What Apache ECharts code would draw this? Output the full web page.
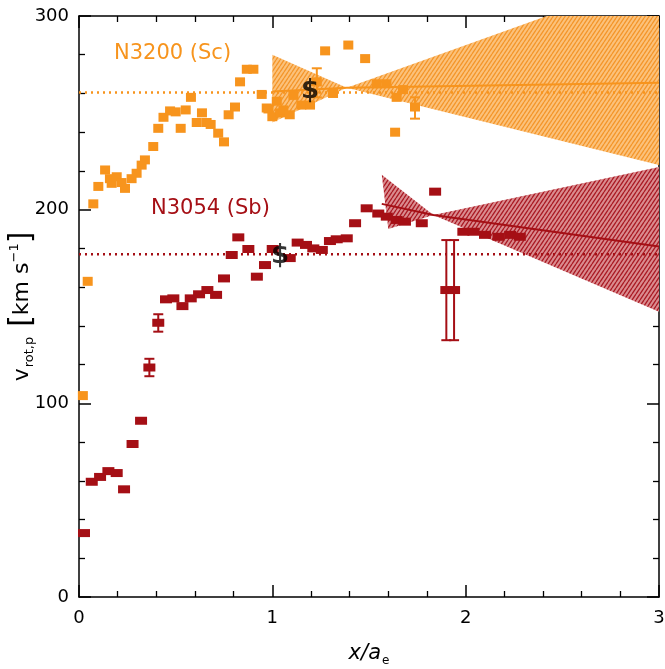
<!DOCTYPE html>
<html><head><meta charset="utf-8">
<script src="https://cdn.jsdelivr.net/npm/echarts@6/dist/echarts.min.js"></script>
<style>html,body{margin:0;padding:0;background:#fff}#c{width:665px;height:669px}</style>
</head><body><div id="c"></div>
<script>
// ---- data ----
const orangeX = [0.02,0.045,0.074,0.10,0.135,0.16,0.169,0.195,0.22,0.238,0.272,0.298,0.324,0.341,0.384,0.41,0.437,0.471,0.50,0.526,0.552,0.579,0.609,0.636,0.66,0.681,0.72,0.75,0.774,0.807,0.833,0.868,0.902,0.945,0.971,0.98,1.0,1.023,1.04,1.057,1.09,1.109,1.15,1.195,1.23,1.273,1.314,1.393,1.48,1.54,1.59,1.635,1.643,1.676,1.738];
const orangeY = [104,163,203,212,220.5,216,213.6,217,214,211,216,218.8,223,225.7,232.6,242,247.7,251,250.5,242,251.5,258,245,250,245,244,239.5,235,249,253,266,272.5,272.5,259.5,252.5,252,248,256,250,251.5,249,259,254,254,266,282,260,285,278,265,265,240,258,262,253];
const redX = [0.026,0.066,0.109,0.152,0.195,0.233,0.277,0.321,0.364,0.41,0.45,0.488,0.535,0.578,0.621,0.664,0.709,0.75,0.79,0.824,0.876,0.92,0.962,1.002,1.09,1.131,1.174,1.212,1.256,1.298,1.333,1.385,1.428,1.488,1.548,1.592,1.643,1.686,1.773,1.842,1.90,1.94,1.988,2.04,2.10,2.17,2.23,2.28];
const redY = [33,59.5,62,65,64,55.6,79,91,118.5,141.6,153.7,154.2,150.2,154.2,156.3,158.5,156,164.5,176.6,185.7,179.7,165.4,171.4,179.7,175,183,181.8,180,179.2,183.8,184.7,185.2,193,200.7,198,196.4,194.7,193.8,193,209.3,158.5,158.5,188.6,188.6,187,186,187,186];
// error bars: [x, low, high]
const orangeErr = [[1.23,258,273],[1.738,247,258]];
const redErr = [[0.364,114,123],[0.41,137,146],[1.90,132.6,184.3],[1.94,132.6,184.3]];
// mean-velocity markers ($)
const orangeMean = [1.195,261];
const redMean = [1.04,176];
// horizontal reference (dotted) levels
const orangeLevel = 260.5;
const redLevel = 177;
// fitted lines
const orangeFit = [[1.0,261],[1.385,263],[3.0,265.5]];
const redFit = [[1.566,203],[1.833,197.2],[3.0,181]];
// uncertainty wedges (polygons)
const orangeWedges = [
  [[1.0,280],[1.385,263],[1.0,245]],
  [[1.385,263],[2.42,300],[3.0,300],[3.0,223]]
];
const redWedges = [
  [[1.566,218],[1.833,197.2],[1.6,190]],
  [[1.833,197.2],[3.0,222],[3.0,147.3]]
];
const xTicks = [0,1,2,3];
const yTicks = [0,100,200,300];

// ---- styles ----
const ORANGE = '#F7941D', RED = '#A50F15';
function hatch(bg, fg){
  const c=document.createElement('canvas'); c.width=4; c.height=6;
  const g=c.getContext('2d'); g.fillStyle=bg; g.fillRect(0,0,4,6);
  g.strokeStyle=fg; g.lineWidth=1.3; g.beginPath();
  for(let k=-4;k<=8;k+=4){ g.moveTo(k,6); g.lineTo(k+4,0); }
  g.stroke(); return c;
}
const orangeFill = {image: hatch('#FBC27C','#F4962A'), repeat:'repeat'};
const redFill = {image: hatch('#DA8C90','#AA1A24'), repeat:'repeat'};

function polySeries(polys, fill){
  return {type:'custom', silent:true, z:1, clip:true,
    data: polys.map((p,i)=>[p[0][0],p[0][1],i]),
    renderItem:(params,api)=>{
      const p = polys[params.dataIndex];
      return {type:'polygon', shape:{points:p.map(q=>api.coord(q))}, style:{fill:fill, stroke:null}};
    }};
}
function errSeries(errs, color){
  return {type:'custom', silent:true, z:4,
    data: errs,
    renderItem:(params,api)=>{
      const x=api.value(0), lo=api.coord([x,api.value(1)]), hi=api.coord([x,api.value(2)]);
      const w=5;
      return {type:'group', children:[
        {type:'line', shape:{x1:lo[0],y1:lo[1],x2:hi[0],y2:hi[1]}, style:{stroke:color,lineWidth:2}},
        {type:'line', shape:{x1:lo[0]-w,y1:lo[1],x2:lo[0]+w,y2:lo[1]}, style:{stroke:color,lineWidth:2}},
        {type:'line', shape:{x1:hi[0]-w,y1:hi[1],x2:hi[0]+w,y2:hi[1]}, style:{stroke:color,lineWidth:2}}
      ]};
    }};
}
const zip=(a,b)=>a.map((v,i)=>[v,b[i]]);

const axisCommon = {
  type:'value', min:0,
  axisLine:{show:true,onZero:false,lineStyle:{color:'#000',width:1.5}},
  axisTick:{show:true,inside:true,length:12,lineStyle:{color:'#000',width:1.5}},
  minorTick:{show:true,splitNumber:5,length:6,lineStyle:{color:'#000',width:1.3}},
  splitLine:{show:false}, minorSplitLine:{show:false}
};
const chart = echarts.init(document.getElementById('c'), null, {renderer:'canvas'});
chart.setOption({
  backgroundColor:'#fff',
  animation:false,
  grid:{left:79,right:6,top:16,bottom:72,containLabel:false,outerBoundsMode:'none'},
  xAxis:[
    Object.assign({}, axisCommon, {max:3, interval:1, position:'bottom',
      axisLabel:{color:'#000',fontSize:18,margin:12,fontFamily:'DejaVu Sans',
        formatter:v=>xTicks.includes(v)?String(v):''},
      name:'{i|x/a}{s|e}', nameLocation:'middle', nameGap:44, nameMoveOverlap:false,
      nameTextStyle:{rich:{i:{fontSize:21,fontStyle:'italic',fontFamily:'DejaVu Sans',color:'#000'},
        s:{fontSize:12,fontFamily:'DejaVu Sans',color:'#000',padding:[14,0,0,1]}}}}),
    Object.assign({}, axisCommon, {max:3, interval:1, position:'top', axisLabel:{show:false}})
  ],
  yAxis:[
    Object.assign({}, axisCommon, {max:300, interval:100, position:'left',
      axisLabel:{color:'#000',fontSize:18,margin:10,fontFamily:'DejaVu Sans',
        formatter:v=>yTicks.includes(v)?String(v):''},
      name:'{v|v}{sub|rot,p}{sp| }{b|[}{t|km s}{sup|−1}{b|]}', nameLocation:'middle', nameGap:42, nameRotate:90,
      nameMoveOverlap:false,
      nameTextStyle:{rich:{
        v:{fontSize:22,fontFamily:'DejaVu Sans',color:'#000'},
        sub:{fontSize:13,fontFamily:'DejaVu Sans',color:'#000',padding:[16,0,0,1]},
        sp:{fontSize:22,width:10},
        b:{fontSize:30,fontFamily:'DejaVu Sans',color:'#000'},
        t:{fontSize:22,fontFamily:'DejaVu Sans',color:'#000'},
        sup:{fontSize:13,fontFamily:'DejaVu Sans',color:'#000',padding:[0,0,14,0]}
      }}}),
    Object.assign({}, axisCommon, {max:300, interval:100, position:'right', axisLabel:{show:false}})
  ],
  graphic:[
    {type:'text', left:114, top:43, style:{text:'N3200 (Sc)', fill:ORANGE, fontSize:21, fontFamily:'DejaVu Sans'}},
    {type:'text', left:151, top:198, style:{text:'N3054 (Sb)', fill:RED, fontSize:21, fontFamily:'DejaVu Sans'}}
  ],
  series:[
    polySeries(orangeWedges, orangeFill),
    polySeries(redWedges, redFill),
    {type:'line', z:2, symbol:'none', data:[[0,orangeLevel],[3,orangeLevel]], lineStyle:{color:ORANGE,width:2.5,type:[2,4]}},
    {type:'line', z:2, symbol:'none', data:[[0,redLevel],[3,redLevel]], lineStyle:{color:RED,width:2.5,type:[2,4]}},
    {type:'line', z:2, symbol:'none', data:orangeFit, lineStyle:{color:ORANGE,width:2}},
    {type:'line', z:2, symbol:'none', data:redFit, lineStyle:{color:RED,width:2}},
    errSeries(orangeErr, ORANGE),
    errSeries(redErr, RED),
    {type:'scatter', z:5, symbol:'rect', symbolSize:[10,9], itemStyle:{color:ORANGE,opacity:1}, data:zip(orangeX,orangeY)},
    {type:'scatter', z:5, symbol:'rect', symbolSize:[12,8], itemStyle:{color:RED,opacity:1}, data:zip(redX,redY)},
    {type:'scatter', z:6, symbol:'circle', symbolSize:1, itemStyle:{color:'rgba(0,0,0,0)'},
      label:{show:true,position:'inside',formatter:'$',color:'#000',fontSize:26,fontWeight:'bold',fontFamily:'DejaVu Sans'},
      data:[orangeMean, redMean]}
  ]
});
</script></body></html>
